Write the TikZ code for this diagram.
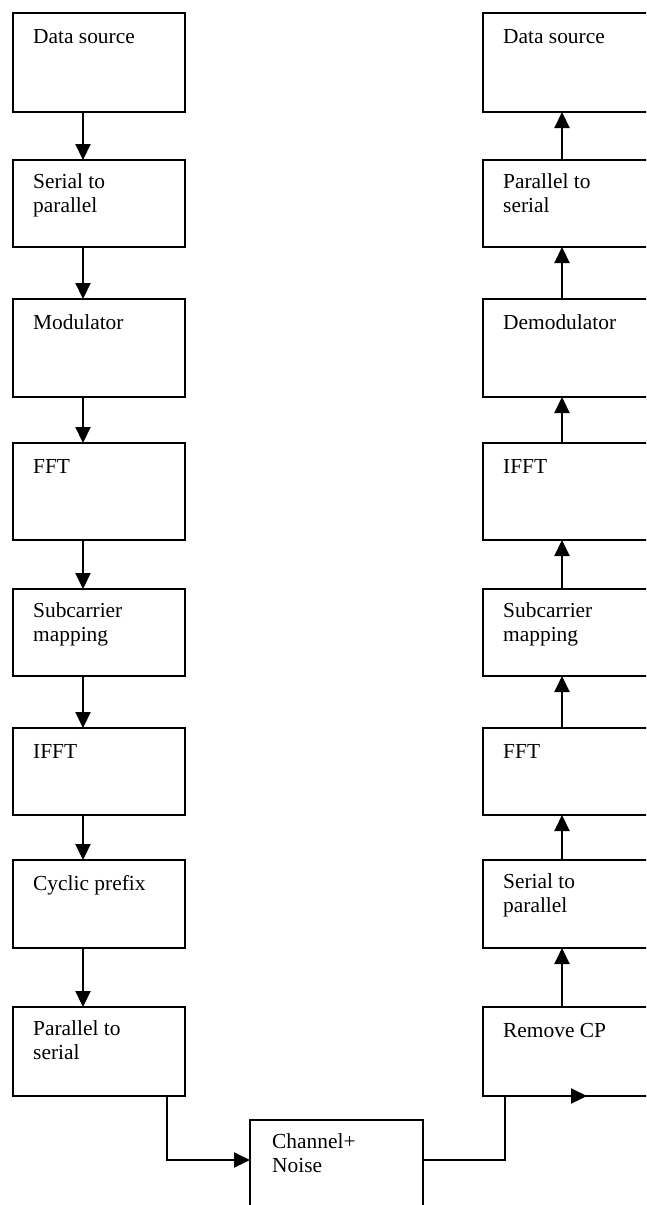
\documentclass[tikz,border=0pt]{standalone}
\usepackage{fontspec}
\setmainfont{Liberation Serif}
\usetikzlibrary{arrows.meta}
\tikzset{
  blk/.style={draw,line width=2pt,anchor=north west,inner sep=0,outer sep=0,minimum width=172pt},
  lbl/.style={anchor=north west,align=left,inner sep=0,xshift=20pt,yshift=-13pt,
    font=\fontsize{21.4}{24.5}\selectfont,execute at begin node={\rule{0pt}{17pt}}},
  flow/.style={line width=2.2pt,-{Triangle[length=16pt,width=15pt]}},
}
\begin{document}
\begin{tikzpicture}[x=1pt,y=-1pt]
	\useasboundingbox (0,0) rectangle (646,1205);
	\fill[white] (0,0) rectangle (646,1205);
	\clip (0,0) rectangle (646,1205);
	% transmitter
	\node[blk,minimum height=99pt,label={[lbl]north west:Data source}] (tx1) at (13,13) {};
	\node[blk,minimum height=87pt,label={[lbl]north west:{Serial to\\parallel}}] (tx2) at (13,160) {};
	\node[blk,minimum height=98pt,label={[lbl]north west:Modulator}] (tx3) at (13,299) {};
	\node[blk,minimum height=97pt,label={[lbl]north west:FFT}] (tx4) at (13,443) {};
	\node[blk,minimum height=87pt,label={[lbl]north west:{Subcarrier\\mapping}}] (tx5) at (13,589) {};
	\node[blk,minimum height=87pt,label={[lbl]north west:IFFT}] (tx6) at (13,728) {};
	\node[blk,minimum height=88pt,label={[lbl]north west:Cyclic prefix}] (tx7) at (13,860) {};
	\node[blk,minimum height=89pt,label={[lbl]north west:{Parallel to\\serial}}] (tx8) at (13,1007) {};
	% receiver
	\node[blk,minimum height=99pt,label={[lbl]north west:Data source}] (rx1) at (483,13) {};
	\node[blk,minimum height=87pt,label={[lbl]north west:{Parallel to\\serial}}] (rx2) at (483,160) {};
	\node[blk,minimum height=98pt,label={[lbl]north west:Demodulator}] (rx3) at (483,299) {};
	\node[blk,minimum height=97pt,label={[lbl]north west:IFFT}] (rx4) at (483,443) {};
	\node[blk,minimum height=87pt,label={[lbl]north west:{Subcarrier\\mapping}}] (rx5) at (483,589) {};
	\node[blk,minimum height=87pt,label={[lbl]north west:FFT}] (rx6) at (483,728) {};
	\node[blk,minimum height=88pt,label={[lbl]north west:{Serial to\\parallel}}] (rx7) at (483,860) {};
	\node[blk,minimum height=89pt,label={[lbl]north west:Remove CP}] (rx8) at (483,1007) {};
	% channel
	\node[blk,minimum width=173pt,minimum height=100pt,label={[lbl,xshift=2pt]north west:{Channel+\\Noise}}] (chan) at (250,1120) {};
	% arrows down
	\draw[flow] ([xshift=70pt]tx1.south west) -- ([xshift=70pt]tx2.north west);
	\draw[flow] ([xshift=70pt]tx2.south west) -- ([xshift=70pt]tx3.north west);
	\draw[flow] ([xshift=70pt]tx3.south west) -- ([xshift=70pt]tx4.north west);
	\draw[flow] ([xshift=70pt]tx4.south west) -- ([xshift=70pt]tx5.north west);
	\draw[flow] ([xshift=70pt]tx5.south west) -- ([xshift=70pt]tx6.north west);
	\draw[flow] ([xshift=70pt]tx6.south west) -- ([xshift=70pt]tx7.north west);
	\draw[flow] ([xshift=70pt]tx7.south west) -- ([xshift=70pt]tx8.north west);
	% arrows up
	\draw[flow] ([xshift=79pt]rx8.north west) -- ([xshift=79pt]rx7.south west);
	\draw[flow] ([xshift=79pt]rx7.north west) -- ([xshift=79pt]rx6.south west);
	\draw[flow] ([xshift=79pt]rx6.north west) -- ([xshift=79pt]rx5.south west);
	\draw[flow] ([xshift=79pt]rx5.north west) -- ([xshift=79pt]rx4.south west);
	\draw[flow] ([xshift=79pt]rx4.north west) -- ([xshift=79pt]rx3.south west);
	\draw[flow] ([xshift=79pt]rx3.north west) -- ([xshift=79pt]rx2.south west);
	\draw[flow] ([xshift=79pt]rx2.north west) -- ([xshift=79pt]rx1.south west);
	% through the channel
	\draw[flow] ([xshift=70pt]tx8.south west) -- ([xshift=154pt]tx8.south west) |- ([yshift=-40pt]chan.north west);
	\draw[flow] ([yshift=-40pt]chan.north east) -| ([xshift=22pt]rx8.south west) -- ([xshift=104pt]rx8.south west);
\end{tikzpicture}
\end{document}
